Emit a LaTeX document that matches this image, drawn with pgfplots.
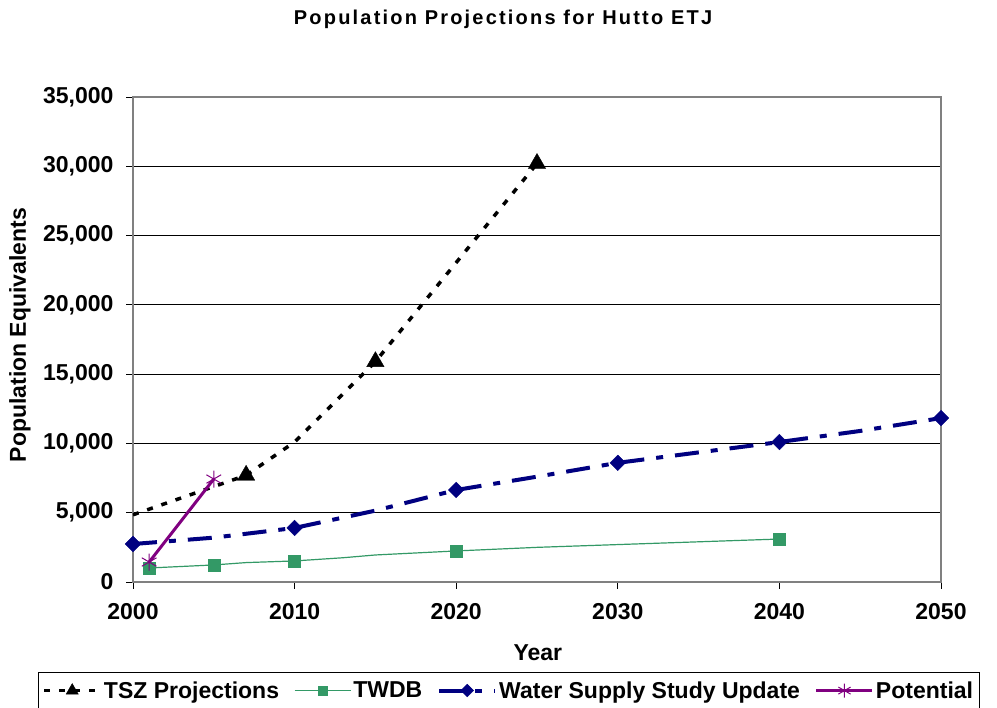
\documentclass[border=0pt]{standalone}
\usepackage{pgfplots}
\pgfplotsset{compat=1.18}
\usepackage{fontspec}
\setmainfont{Liberation Sans}
\newfontfamily\titlefont{Liberation Sans}[LetterSpace=11]
\definecolor{twdb}{HTML}{339966}
\definecolor{wss}{HTML}{000080}
\definecolor{pot}{HTML}{800080}
\begin{document}
\begin{tikzpicture}
\useasboundingbox (0,0) rectangle (997pt,708pt);
\node[font=\titlefont\bfseries\fontsize{20}{22}\selectfont] at (503pt,689pt) {Population Projections for Hutto ETJ};
\begin{axis}[
  at={(133pt,126pt)}, anchor=south west, scale only axis,
  width=808pt, height=485pt,
  xmin=2000, xmax=2050, ymin=0, ymax=35000,
  xtick={2000,2010,...,2050}, ytick={0,5000,...,35000},
  scaled y ticks=false,
  ymajorgrids, grid style={black, line width=0.9pt},
  axis line style={gray, line width=1.3pt},
  tick align=outside, xtick pos=bottom, ytick pos=left,
  major tick length=7pt, tick style={black, line width=0.9pt},
  /pgf/number format/assume math mode=true,
  ticklabel style={font=\bfseries\fontsize{23}{26}\selectfont},
  yticklabel style={/pgf/number format/.cd, fixed, 1000 sep={,}, /tikz/.cd, xshift=-9pt},
  xticklabel style={/pgf/number format/.cd, 1000 sep={}, /tikz/.cd, yshift=-11pt},
  xlabel={Year}, ylabel={Population Equivalents},
  label style={font=\bfseries\fontsize{23}{26}\selectfont},
  xlabel style={at={(axis description cs:0.501,-0.146)}, anchor=center},
  ylabel style={at={(axis description cs:-0.14,0.509)}, anchor=center, rotate=0},
  legend style={at={(-0.1176,-0.1856)}, anchor=north west, legend columns=-1,
    draw=black, line width=1pt, font=\bfseries\fontsize{23}{27}\selectfont,
    inner xsep=4pt, inner ysep=7pt,
    /tikz/every even column/.append style={column sep=13pt}},
  legend image code/.code={\draw[mark repeat=2,mark phase=2,#1] plot coordinates {(0pt,0pt) (28pt,0pt) (56pt,0pt)};},
]
% TSZ Projections
\addplot[forget plot, black, line width=3.5pt, dash pattern=on 6pt off 9pt, mark=triangle*, mark size=10pt, mark options={solid, line width=0.4pt}, mark indices={2,4,5}]
  coordinates {(2000,4850) (2007,7700) (2010,10100) (2015,15900) (2025,30200)};
% TWDB
\addplot[forget plot, twdb, line width=1.2pt, mark=square*, mark size=6pt, mark options={line width=0.4pt}, mark indices={1,2,4,7,11}]
  coordinates {(2001,1010) (2005,1230) (2007,1400) (2010,1520) (2013,1750) (2015,1950) (2020,2240) (2025,2500) (2030,2700) (2035,2900) (2040,3100)};
% Water Supply Study Update
\addplot[forget plot, wss, line width=4pt, dash pattern=on 24pt off 12pt on 7pt off 12pt, mark=square*, mark size=5.5pt, mark options={solid, rotate=45, line width=0.4pt}, mark indices={1,3,5,7,9,11}]
  coordinates {(2000,2740) (2005,3200) (2010,3900) (2015,5150) (2020,6640) (2025,7600) (2030,8600) (2035,9350) (2040,10100) (2045,10900) (2050,11830)};
% Potential
\addplot[forget plot, pot, line width=3pt, mark=asterisk, mark size=8.5pt, mark options={line width=1pt}]
  coordinates {(2001,1440) (2005,7430)};
\addlegendimage{black, line width=3.5pt, dash pattern=on 6pt off 9pt, mark=triangle*, mark size=7pt, mark options={solid, line width=0.4pt}}
\addlegendentry{TSZ Projections}
\addlegendimage{twdb, line width=1.2pt, mark=square*, mark size=4.5pt, mark options={line width=0.4pt}}
\addlegendentry{TWDB}
\addlegendimage{wss, line width=4pt, dash pattern=on 24pt off 12pt on 7pt off 12pt, mark=square*, mark size=4.5pt, mark options={solid, rotate=45, line width=0.4pt}}
\addlegendentry{Water Supply Study Update}
\addlegendimage{pot, line width=3pt, mark=asterisk, mark size=7pt, mark options={line width=1pt}}
\addlegendentry{Potential}
\end{axis}
\end{tikzpicture}
\end{document}
